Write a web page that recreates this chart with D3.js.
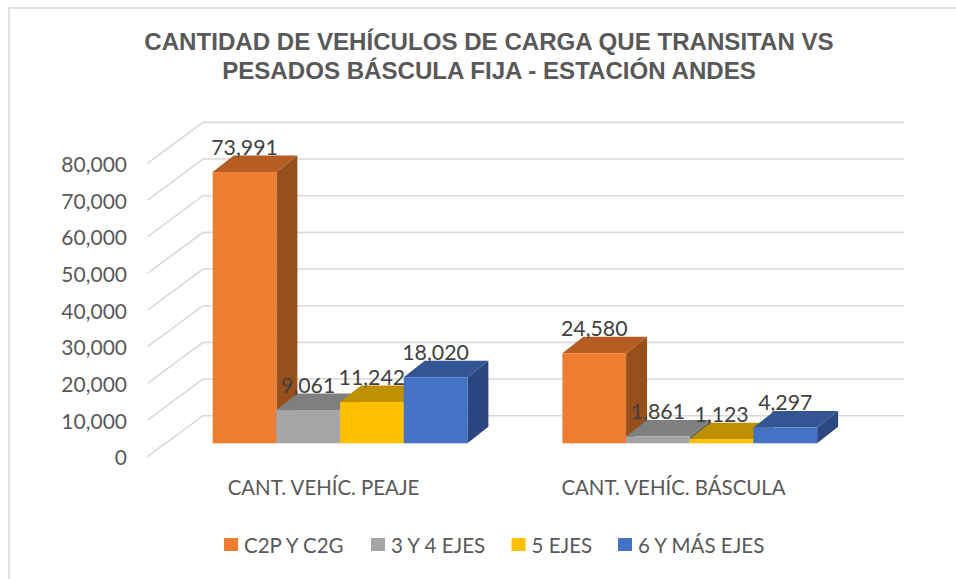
<!DOCTYPE html>
<html>
<head>
<meta charset="utf-8">
<script src="https://cdn.jsdelivr.net/npm/d3@7"></script>
<style>
  html, body { margin: 0; padding: 0; background: #fff; }
  svg { display: block; }
</style>
</head>
<body>
<script>
const w = 956, h = 579;

const categories = ["CANT. VEHÍC. PEAJE", "CANT. VEHÍC. BÁSCULA"];
const seriesNames = ["C2P Y C2G", "3 Y 4 EJES", "5 EJES", "6 Y MÁS EJES"];
const peaje = [73991, 9061, 11242, 18020];
const bascula = [24580, 1861, 1123, 4297];
const yTicks = [0, 10000, 20000, 30000, 40000, 50000, 60000, 70000, 80000];
const titleLines = ["CANTIDAD DE VEHÍCULOS DE CARGA QUE TRANSITAN VS", "PESADOS BÁSCULA FIJA - ESTACIÓN ANDES"];

const front = ["#ed7d31", "#a5a5a5", "#ffc000", "#4472c4"];
const top_ = ["#b55d22", "#7f7f7f", "#bf9000", "#335593"];
const side = ["#974f1c", "#696969", "#9f7800", "#2a4780"];

const font = "Lato, sans-serif";
const grey = "#595959";

const y = d3.scaleLinear().domain([0, 80000]).range([443.3, 150]);
const x0 = d3.scaleBand().domain(categories).range([212.7, 912.1]);
const x1 = d3.scaleBand().domain(seriesNames).range([0, 254.7]);

// depth of the 3d box
const barDx = 21, barDy = -16.5;
const wallDy = -27.6, floorDy = 13.4;
const floorX = 147.5, wallX = 203, wallRight = 904;

const svg = d3.select("body").append("svg").attr("width", w).attr("height", h);

svg.append("path")
  .attr("d", "M9,579V8H956")
  .attr("fill", "none")
  .attr("stroke", "#d9d9d9")
  .attr("stroke-width", 1.6);

svg.append("g")
  .selectAll("text")
  .data(titleLines)
  .enter()
  .append("text")
    .text((d) => d)
    .attr("x", 489)
    .attr("y", (d, i) => 50 + i * 29)
    .attr("text-anchor", "middle")
    .attr("font-family", "'Liberation Sans', sans-serif")
    .attr("font-weight", "bold")
    .attr("font-size", 24.1)
    .attr("fill", grey);

svg.append("g")
  .attr("id", "grid")
  .selectAll("path")
  .data(yTicks)
  .enter()
  .append("path")
    .attr("d", (d) => {
      return "M" + floorX + "," + (y(d) + floorDy)
        + "L" + wallX + "," + (y(d) + wallDy)
        + "H" + wallRight;
    })
    .attr("fill", "none")
    .attr("stroke", "#d9d9d9")
    .attr("stroke-width", 1.6);

svg.append("g")
  .selectAll("text")
  .data(yTicks)
  .enter()
  .append("text")
    .text((d) => d3.format(",")(d))
    .attr("x", 127)
    .attr("y", (d) => y(d) + floorDy + 8.6)
    .attr("text-anchor", "end")
    .attr("font-family", font)
    .attr("font-size", 21)
    .attr("fill", grey);

const groups = svg.selectAll("g.group")
  .data([peaje, bascula])
  .enter()
  .append("g")
    .classed("group", true)
    .attr("transform", (d, i) => "translate(" + x0(categories[i]) + ",0)");

seriesNames.forEach((name, s) => {
  const box = groups.append("g");
  const bx = x1(name);
  const bw = x1.bandwidth();

  box.append("path")
    .attr("d", (d) => {
      const t = y(d[s]);
      return "M" + (bx + bw) + "," + t + "l" + barDx + "," + barDy
        + "V" + (y(0) + barDy) + "l" + (-barDx) + "," + (-barDy) + "Z";
    })
    .attr("fill", side[s]);

  box.append("path")
    .attr("d", (d) => {
      const t = y(d[s]);
      return "M" + bx + "," + t + "l" + barDx + "," + barDy + "h" + bw + "l" + (-barDx) + "," + (-barDy) + "Z";
    })
    .attr("fill", top_[s]);

  box.append("rect")
    .attr("x", bx)
    .attr("y", (d) => y(d[s]))
    .attr("width", bw)
    .attr("height", (d) => y(0) - y(d[s]))
    .attr("fill", front[s]);
});

// labels last, they sit over the neighbouring boxes
seriesNames.forEach((name, s) => {
  groups.append("text")
    .text((d) => d3.format(",")(d[s]))
    .attr("x", x1(name) + x1.bandwidth() / 2)
    .attr("y", (d) => y(d[s]) - 17.5)
    .attr("text-anchor", "middle")
    .attr("font-family", font)
    .attr("font-size", 21.3)
    .attr("fill", "#404040");
});

svg.append("g")
  .selectAll("text")
  .data(categories)
  .enter()
  .append("text")
    .text((d) => d)
    .attr("x", (d, i) => [323.5, 673.5][i])
    .attr("y", 495)
    .attr("text-anchor", "middle")
    .attr("font-family", font)
    .attr("font-size", 20.4)
    .attr("fill", grey);

const legendX = [224, 371, 511.5, 618];
const legend = svg.append("g")
  .selectAll("g")
  .data(seriesNames)
  .enter()
  .append("g")
    .attr("transform", (d, i) => "translate(" + legendX[i] + ",538)");

legend.append("rect")
  .attr("width", 14)
  .attr("height", 13)
  .attr("fill", (d, i) => front[i]);

legend.append("text")
  .text((d) => d)
  .attr("x", 20)
  .attr("y", 15.3)
  .attr("font-family", font)
  .attr("font-size", 20.5)
  .attr("fill", grey);
</script>
</body>
</html>
